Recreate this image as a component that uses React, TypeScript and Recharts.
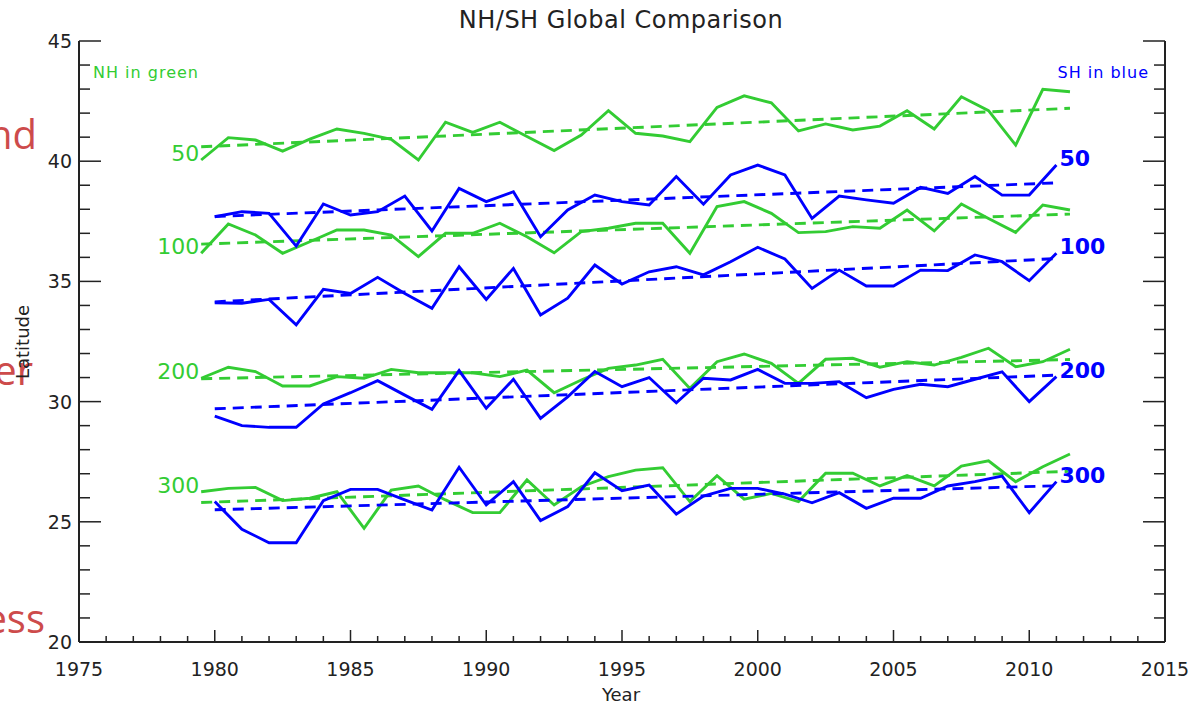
import { LineChart, Line, XAxis, YAxis } from "recharts";

// NH series are plotted at mid-year, SH at the year mark
const NH_YEARS = [
  1979.5, 1980.5, 1981.5, 1982.5, 1983.5, 1984.5, 1985.5, 1986.5, 1987.5, 1988.5, 1989.5,
  1990.5, 1991.5, 1992.5, 1993.5, 1994.5, 1995.5, 1996.5, 1997.5, 1998.5, 1999.5, 2000.5,
  2001.5, 2002.5, 2003.5, 2004.5, 2005.5, 2006.5, 2007.5, 2008.5, 2009.5, 2010.5, 2011.5,
];
const SH_YEARS = [
  1980, 1981, 1982, 1983, 1984, 1985, 1986, 1987, 1988, 1989, 1990, 1991, 1992, 1993, 1994,
  1995, 1996, 1997, 1998, 1999, 2000, 2001, 2002, 2003, 2004, 2005, 2006, 2007, 2008, 2009,
  2010, 2011,
];

const NH50 = [
  40.05, 40.98, 40.88, 40.42, 40.92, 41.34, 41.16, 40.91, 40.05, 41.62, 41.2, 41.62, 41.03,
  40.44, 41.09, 42.1, 41.16, 41.05, 40.81, 42.24, 42.72, 42.43, 41.26, 41.55, 41.3, 41.46,
  42.1, 41.34, 42.68, 42.1, 40.67, 42.99, 42.89,
];
const NH100 = [
  36.17, 37.39, 36.93, 36.17, 36.65, 37.14, 37.14, 36.93, 36.03, 37.0, 37.0, 37.42, 36.86,
  36.19, 37.07, 37.21, 37.42, 37.42, 36.17, 38.11, 38.32, 37.83, 37.03, 37.07, 37.28, 37.21,
  37.97, 37.1, 38.22, 37.62, 37.04, 38.18, 37.97,
];
const NH200 = [
  30.97, 31.43, 31.25, 30.65, 30.65, 31.04, 30.97, 31.34, 31.2, 31.2, 31.2, 31.04, 31.31,
  30.37, 30.9, 31.38, 31.52, 31.76, 30.55, 31.66, 31.98, 31.59, 30.76, 31.76, 31.8, 31.43,
  31.66, 31.52, 31.84, 32.22, 31.45, 31.66, 32.18,
];
const NH300 = [
  26.25, 26.39, 26.43, 25.88, 25.98, 26.25, 24.73, 26.32, 26.49, 25.91, 25.38, 25.38, 26.74,
  25.7, 26.46, 26.88, 27.15, 27.25, 25.84, 26.92, 25.94, 26.18, 25.84, 27.02, 27.02, 26.49,
  26.92, 26.49, 27.32, 27.54, 26.67, 27.29, 27.82,
];

const SH50 = [
  37.69, 37.9, 37.83, 36.47, 38.22, 37.76, 37.9, 38.55, 37.1, 38.87, 38.32, 38.73, 36.86,
  37.97, 38.59, 38.32, 38.18, 39.36, 38.21, 39.43, 39.84, 39.43, 37.62, 38.55, 38.39, 38.25,
  38.91, 38.66, 39.36, 38.59, 38.59, 39.84,
];
const SH100 = [
  34.11, 34.09, 34.25, 33.19, 34.67, 34.5, 35.17, 34.5, 33.88, 35.61, 34.25, 35.54, 33.6,
  34.3, 35.68, 34.89, 35.4, 35.61, 35.27, 35.82, 36.42, 35.93, 34.71, 35.47, 34.81, 34.81,
  35.47, 35.45, 36.1, 35.82, 35.03, 36.17,
];
const SH200 = [
  29.4, 29.0, 28.93, 28.93, 29.9, 30.37, 30.87, 30.27, 29.68, 31.29, 29.72, 30.93, 29.3,
  30.2, 31.25, 30.62, 31.0, 29.95, 30.97, 30.9, 31.34, 30.76, 30.76, 30.83, 30.16, 30.51,
  30.72, 30.62, 30.93, 31.24, 30.0, 31.04,
];
const SH300 = [
  25.84, 24.69, 24.13, 24.13, 25.88, 26.35, 26.35, 25.91, 25.49, 27.27, 25.7, 26.67, 25.05,
  25.63, 27.04, 26.29, 26.53, 25.32, 26.07, 26.39, 26.39, 26.15, 25.79, 26.21, 25.56, 25.98,
  25.98, 26.49, 26.67, 26.9, 25.38, 26.67,
];

// linear trend lines: [start, end]
const NH_TREND_YEARS = [1979.5, 2011.5];
const SH_TREND_YEARS = [1980, 2011];
const NH50_TREND = [40.6, 42.2];
const NH100_TREND = [36.55, 37.8];
const NH200_TREND = [30.95, 31.75];
const NH300_TREND = [25.8, 27.1];
const SH50_TREND = [37.7, 39.1];
const SH100_TREND = [34.15, 35.95];
const SH200_TREND = [29.7, 31.1];
const SH300_TREND = [25.5, 26.5];

const YEAR_TICKS = [
  1975, 1976, 1977, 1978, 1979, 1980, 1981, 1982, 1983, 1984, 1985, 1986, 1987, 1988, 1989,
  1990, 1991, 1992, 1993, 1994, 1995, 1996, 1997, 1998, 1999, 2000, 2001, 2002, 2003, 2004,
  2005, 2006, 2007, 2008, 2009, 2010, 2011, 2012, 2013, 2014, 2015,
];
const YEAR_LABELS = [1975, 1980, 1985, 1990, 1995, 2000, 2005, 2010, 2015];
const LAT_TICKS = [
  20, 21, 22, 23, 24, 25, 26, 27, 28, 29, 30, 31, 32, 33, 34, 35, 36, 37, 38, 39, 40, 41, 42,
  43, 44, 45,
];
const LAT_LABELS = [20, 25, 30, 35, 40, 45];

const GREEN = "#33cc33";
const BLUE = "#0000ff";
const AXIS = "#222";
const FONT = "'DejaVu Sans', sans-serif";
const DASH = "11 7";
const LINE_W = 2.9;

const rows = (xs: number[], ys: number[]) => xs.map((x, i) => ({ x, y: ys[i] }));

const BottomTick = (props: any) => {
  const { x, y, payload } = props;
  const major = YEAR_LABELS.includes(payload.value);
  return (
    <g>
      <line x1={x} y1={y} x2={x} y2={y - (major ? 12 : 6)} stroke={AXIS} strokeWidth={1.5} />
      {major && (
        <text x={x} y={y + 34} textAnchor="middle" fontSize={19} fontFamily={FONT} fill={AXIS}>
          {payload.value}
        </text>
      )}
    </g>
  );
};

const TopTick = (props: any) => {
  const { x, y, payload } = props;
  const major = YEAR_LABELS.includes(payload.value);
  return <line x1={x} y1={y} x2={x} y2={y + (major ? 12 : 6)} stroke={AXIS} strokeWidth={1.5} />;
};

const LeftTick = (props: any) => {
  const { x, y, payload } = props;
  const major = LAT_LABELS.includes(payload.value);
  return (
    <g>
      <line x1={x} y1={y} x2={x + (major ? 22 : 11)} y2={y} stroke={AXIS} strokeWidth={1.5} />
      {major && (
        <text x={x - 7} y={y + 7} textAnchor="end" fontSize={19} fontFamily={FONT} fill={AXIS}>
          {payload.value}
        </text>
      )}
    </g>
  );
};

const RightTick = (props: any) => {
  const { x, y, payload } = props;
  const major = LAT_LABELS.includes(payload.value);
  return <line x1={x} y1={y} x2={x - (major ? 22 : 11)} y2={y} stroke={AXIS} strokeWidth={1.5} />;
};

// label drawn at the first point of an NH curve
const startLabel = (text: string) => (p: any) =>
  p.index === 0 ? (
    <text key={`dot-${p.index}`} x={p.cx - 2} y={p.cy + 1} textAnchor="end" fontSize={22} fontFamily={FONT} fill={GREEN}>
      {text}
    </text>
  ) : (
    <g key={`dot-${p.index}`} />
  );

// label drawn at the last point of an SH curve
const endLabel = (text: string) => (p: any) =>
  p.index === SH_YEARS.length - 1 ? (
    <text key={`dot-${p.index}`} x={p.cx + 3} y={p.cy + 1} fontSize={22} fontWeight="bold" fontFamily={FONT} fill={BLUE}>
      {text}
    </text>
  ) : (
    <g key={`dot-${p.index}`} />
  );

const NH_SERIES = [
  { name: "50", values: NH50, trend: NH50_TREND },
  { name: "100", values: NH100, trend: NH100_TREND },
  { name: "200", values: NH200, trend: NH200_TREND },
  { name: "300", values: NH300, trend: NH300_TREND },
];
const SH_SERIES = [
  { name: "50", values: SH50, trend: SH50_TREND },
  { name: "100", values: SH100, trend: SH100_TREND },
  { name: "200", values: SH200, trend: SH200_TREND },
  { name: "300", values: SH300, trend: SH300_TREND },
];

const App = () => {
  return (
    <div
      style={{
        position: "absolute",
        left: 0,
        top: 0,
        width: 1190,
        height: 706,
        overflow: "hidden",
        background: "#fff",
      }}
    >
      <LineChart width={1190} height={706} margin={{ top: 41, right: 0, bottom: 0, left: 0 }}>
        <XAxis
          xAxisId="b"
          type="number"
          dataKey="x"
          domain={[1975, 2015]}
          allowDataOverflow
          ticks={YEAR_TICKS}
          interval={0}
          height={64}
          tickSize={0}
          tickMargin={0}
          tick={BottomTick}
          axisLine={{ stroke: AXIS, strokeWidth: 2 }}
        />
        <XAxis
          xAxisId="t"
          orientation="top"
          type="number"
          dataKey="x"
          domain={[1975, 2015]}
          allowDataOverflow
          ticks={YEAR_TICKS}
          interval={0}
          height={0}
          tickSize={0}
          tickMargin={0}
          tick={TopTick}
          axisLine={{ stroke: AXIS, strokeWidth: 2 }}
        />
        <YAxis
          yAxisId="l"
          type="number"
          domain={[20, 45]}
          allowDataOverflow
          ticks={LAT_TICKS}
          interval={0}
          width={79}
          tickSize={0}
          tickMargin={0}
          tick={LeftTick}
          axisLine={{ stroke: AXIS, strokeWidth: 2 }}
        />
        <YAxis
          yAxisId="r"
          orientation="right"
          type="number"
          domain={[20, 45]}
          allowDataOverflow
          ticks={LAT_TICKS}
          interval={0}
          width={25}
          tickSize={0}
          tickMargin={0}
          tick={RightTick}
          axisLine={{ stroke: AXIS, strokeWidth: 2 }}
        />
        {NH_SERIES.map((s) => (
          <Line
            key={`nh-${s.name}`}
            xAxisId="b"
            yAxisId="l"
            data={rows(NH_YEARS, s.values)}
            dataKey="y"
            stroke={GREEN}
            strokeWidth={LINE_W}
            dot={startLabel(s.name)}
            activeDot={false}
            isAnimationActive={false}
          />
        ))}
        {NH_SERIES.map((s) => (
          <Line
            key={`nht-${s.name}`}
            xAxisId="b"
            yAxisId="l"
            data={rows(NH_TREND_YEARS, s.trend)}
            dataKey="y"
            stroke={GREEN}
            strokeWidth={LINE_W}
            strokeDasharray={DASH}
            dot={false}
            activeDot={false}
            isAnimationActive={false}
          />
        ))}
        {SH_SERIES.map((s) => (
          <Line
            key={`sh-${s.name}`}
            xAxisId="b"
            yAxisId="l"
            data={rows(SH_YEARS, s.values)}
            dataKey="y"
            stroke={BLUE}
            strokeWidth={LINE_W}
            dot={endLabel(s.name)}
            activeDot={false}
            isAnimationActive={false}
          />
        ))}
        {SH_SERIES.map((s) => (
          <Line
            key={`sht-${s.name}`}
            xAxisId="b"
            yAxisId="l"
            data={rows(SH_TREND_YEARS, s.trend)}
            dataKey="y"
            stroke={BLUE}
            strokeWidth={LINE_W}
            strokeDasharray={DASH}
            dot={false}
            activeDot={false}
            isAnimationActive={false}
          />
        ))}
      </LineChart>
      <svg
        width={1190}
        height={706}
        style={{ position: "absolute", left: 0, top: 0, pointerEvents: "none" }}
      >
        {/* slide text fragments that sit behind the chart's left edge */}
        <g fontFamily="'Open Sans', sans-serif" fontSize={40} fill="#cd4b4b">
          <text x={37} y={149} textAnchor="end">and</text>
          <text x={33} y={385} textAnchor="end">er</text>
          <text x={45} y={633} textAnchor="end">ess</text>
        </g>
        <g fontFamily={FONT} fill={AXIS}>
          <text x={621} y={28} textAnchor="middle" fontSize={24} letterSpacing={0.5}>
            NH/SH Global Comparison
          </text>
          <text x={621} y={701} textAnchor="middle" fontSize={18}>
            Year
          </text>
          <text x={0} y={0} textAnchor="middle" fontSize={18} transform="translate(29 342) rotate(-90)">
            Latitude
          </text>
        </g>
        <text x={93} y={78} fontSize={16} letterSpacing={1} fontFamily={FONT} fill={GREEN}>
          NH in green
        </text>
        <text x={1149} y={78} fontSize={16} letterSpacing={1} textAnchor="end" fontFamily={FONT} fill={BLUE}>
          SH in blue
        </text>
      </svg>
    </div>
  );
};

export default App;
